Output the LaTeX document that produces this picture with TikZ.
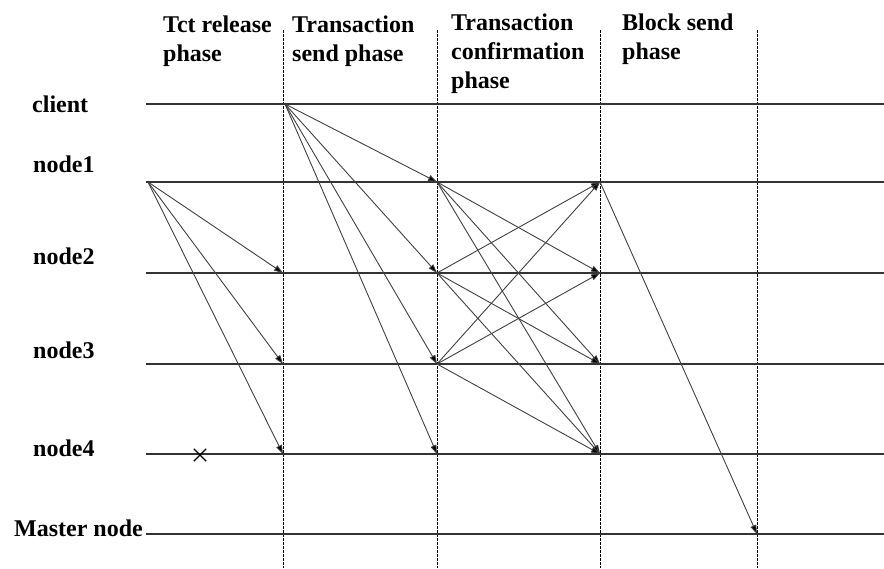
\documentclass[tikz,border=0pt]{standalone}
\usepackage{fontspec}
\setmainfont{Liberation Serif}
\usetikzlibrary{arrows.meta,shapes.misc}
\begin{document}
\begin{tikzpicture}[x=1pt,y=-1pt,
  lifeline/.style={draw=black!80, line width=1.1pt},
  phaseline/.style={draw=black, line width=0.6pt, dash pattern=on 2.5pt off 1.5pt},
  msg/.style={draw=black!75, line width=0.9pt, -{Triangle[length=9pt,width=6pt,fill=black]}},
  lbl/.style={font=\fontsize{24}{29}\selectfont\bfseries, inner sep=0pt, anchor=base west},
  hdr/.style={font=\fontsize{24}{29}\selectfont\bfseries, inner sep=0pt, anchor=north west, align=left}]
\useasboundingbox (0,0) rectangle (884,568);

% phase separators
\foreach \nm/\xx in {pA/283, pB/437, pC/600, pD/757} {
  \coordinate (\nm t) at (\xx,30);
  \coordinate (\nm b) at (\xx,568);
  \draw[phaseline] (\nm t) -- (\nm b);
}

% headers
\node[hdr] (h1) at (163,15.5) {Tct release\\phase};
\node[hdr] (h2) at (292,15.5) {Transaction\\send phase};
\node[hdr] (h3) at (451,13.5) {Transaction\\confirmation\\phase};
\node[hdr] (h4) at (622,13.5) {Block send\\phase};

% lifeline labels
\node[lbl] (lc) at (32,112) {client};
\node[lbl] (l1) at (33,172) {node1};
\node[lbl] (l2) at (33,264) {node2};
\node[lbl] (l3) at (33,358) {node3};
\node[lbl] (l4) at (33,456) {node4};
\node[lbl] (lm) at (14,536) {Master node};

% lifelines
\foreach \nm/\yy in {c/104, n1/182, n2/273, n3/364, n4/454, m/534} {
  \coordinate (\nm S) at (146,\yy);
  \coordinate (\nm E) at (884,\yy);
  \draw[lifeline] (\nm S) -- (\nm E);
}

% message points
\coordinate (n1A) at (148,182);
\coordinate (cB) at (285,104);
\foreach \nm/\yy in {n1/182, n2/273, n3/364, n4/454} {
  \coordinate (\nm B) at (283,\yy);
  \coordinate (\nm C) at (437,\yy);
  \coordinate (\nm D) at (600,\yy);
}
\coordinate (mE) at (757,534);

% Tct release phase
\foreach \t in {n2,n3,n4} \draw[msg] (n1A) -- (\t B);
% Transaction send phase
\foreach \t in {n1,n2,n3,n4} \draw[msg] (cB) -- (\t C);
% Transaction confirmation phase
\foreach \s/\t in {n1/n2,n1/n3,n1/n4,n2/n1,n2/n3,n2/n4,n3/n1,n3/n2,n3/n4}
  \draw[msg] (\s C) -- (\t D);
% Block send phase
\draw[msg] (n1D) -- (mE);

% failure mark on node4
\node[cross out, draw=black, line width=1.4pt, minimum size=11pt, inner sep=0pt] (x4) at (200,455) {};
\end{tikzpicture}
\end{document}
